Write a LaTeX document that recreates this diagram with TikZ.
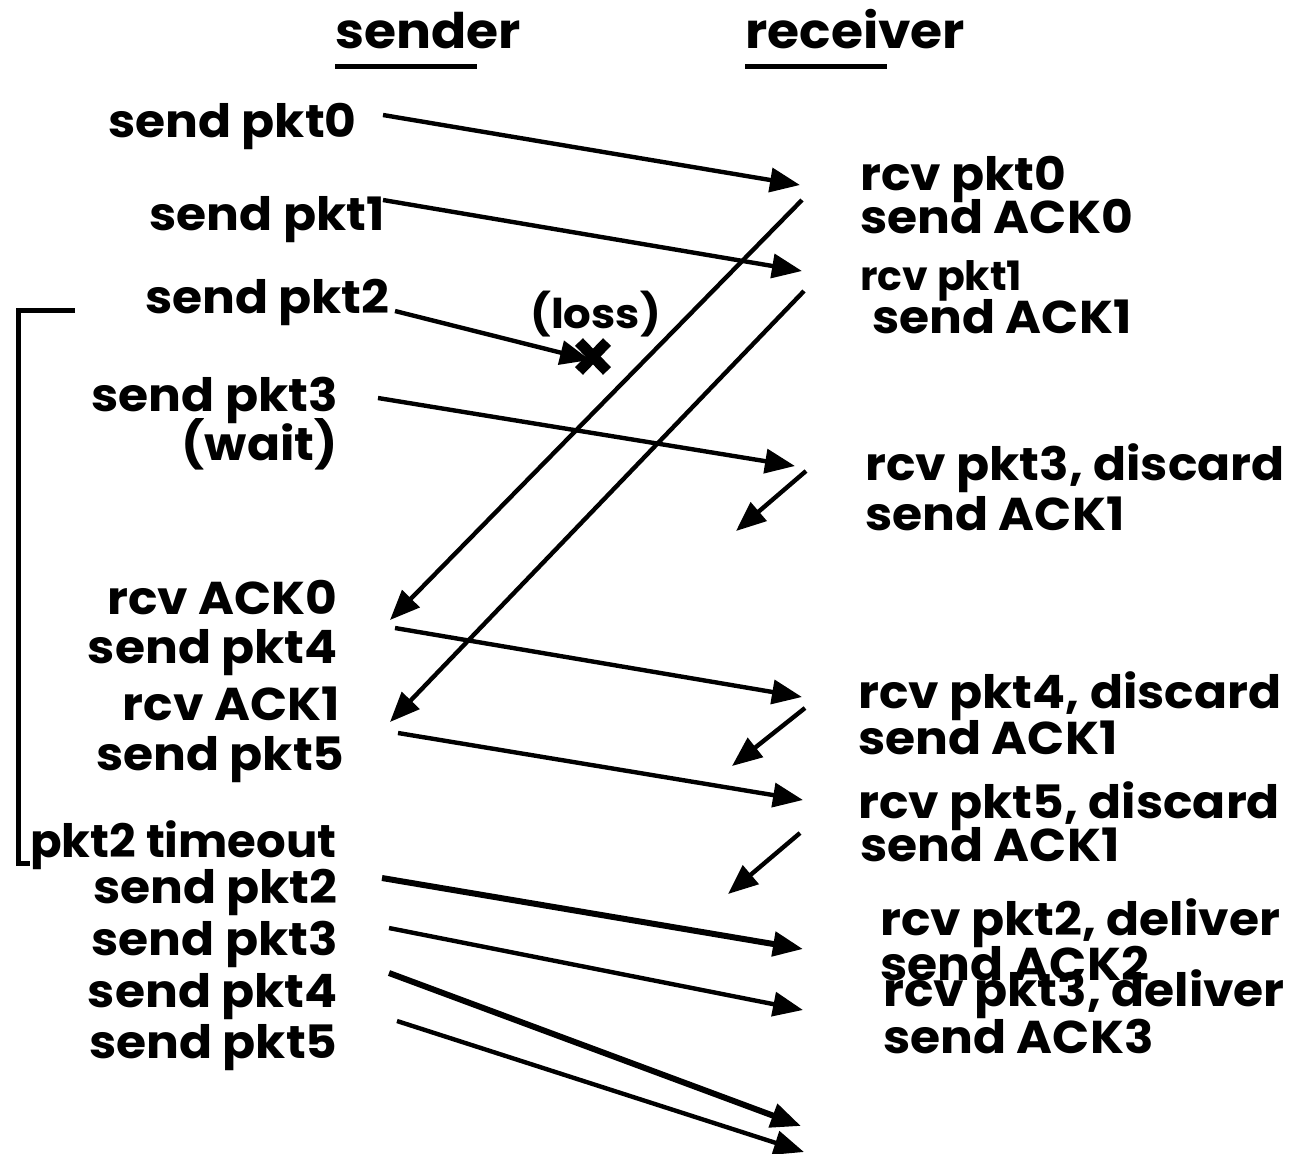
\documentclass[tikz,border=0pt]{standalone}
\usepackage{fontspec}
\setmainfont{Poppins}[FakeStretch=1.06]
\usetikzlibrary{arrows.meta}
\begin{document}
\begin{tikzpicture}[x=0.5pt,y=-0.5pt,
  lbl/.style={inner sep=0pt,font=\fontsize{23}{25}\selectfont\bfseries},
  lft/.style={lbl,anchor=base east},
  rgt/.style={lbl,anchor=base west},
  hdr/.style={inner sep=0pt,anchor=base west,font=\fontsize{24.5}{26}\selectfont\bfseries},
  msg/.style={line width=2.2pt,-{Triangle[length=15pt,width=12pt]}},
  thk/.style={msg,line width=3pt},
  ack/.style={msg},
  uline/.style={line width=2.5pt}]
\useasboundingbox (0,0) rectangle (1303,1153);
% headers
\node[hdr] (hs) at (335,48) {sender};
\node[hdr] (hr) at (745,48) {receiver};
\draw[uline] (335,66) coordinate (us1) -- (477,66) coordinate (us2);
\draw[uline] (745,66) coordinate (ur1) -- (887,66) coordinate (ur2);
% sender labels
\node[lft] (l0) at (357,137) {send pkt0};
\node[lft] (l1) at (385,230) {send pkt1};
\node[lft] (l2) at (390,313) {send pkt2};
\node[lft] (l3) at (338,411) {send pkt3};
\node[lft] (lw) at (338,460) {(wait)};
\node[lft] (la0) at (338,614) {rcv ACK0};
\node[lft] (l4) at (338,663) {send pkt4};
\node[lft] (la1) at (340,720) {rcv ACK1};
\node[lft] (l5) at (345,770) {send pkt5};
\node[lft] (lto) at (337,857) {\scalebox{0.955}[1]{pkt2 timeout}};
\node[lft] (r2) at (338,903) {send pkt2};
\node[lft] (r3) at (338,955) {send pkt3};
\node[lft] (r4) at (338,1007) {send pkt4};
\node[lft] (r5) at (338,1058) {send pkt5};
% receiver labels
\node[rgt] (a0) at (860,190) {rcv pkt0};
\node[rgt] (b0) at (860,233) {send ACK0};
\node[rgt] (a1) at (860,290) {\scalebox{0.84}[0.88]{rcv pkt1}};
\node[rgt] (b1) at (872,333) {send ACK1};
\node[rgt] (a3) at (865,480) {rcv pkt3, discard};
\node[rgt] (b3) at (865,530) {send ACK1};
\node[rgt] (a4) at (858,708) {rcv pkt4, discard};
\node[rgt] (b4) at (858,754) {send ACK1};
\node[rgt] (a5) at (858,818) {rcv pkt5, discard};
\node[rgt] (b5) at (860,861) {send ACK1};
\node[rgt] (c2) at (880,935) {rcv pkt2, deliver};
\node[rgt] (d2) at (880,980) {send ACK2};
\node[rgt] (c3) at (883,1006) {rcv pkt3, deliver};
\node[rgt] (d3) at (883,1053) {send ACK3};
\node[rgt,font=\fontsize{20.5}{22}\selectfont\bfseries] (loss) at (530,328) {(loss)};
% arrow end points
\coordinate (p0s) at (383,115); \coordinate (p0e) at (800,185);
\coordinate (p1s) at (383,200); \coordinate (p1e) at (802,271);
\coordinate (p2s) at (395,311); \coordinate (p2e) at (590,360);
\coordinate (p3s) at (378,398); \coordinate (p3e) at (795,466);
\coordinate (k0s) at (802,200); \coordinate (k0e) at (390,620);
\coordinate (k1s) at (804,291); \coordinate (k1e) at (390,722);
\coordinate (k3s) at (806,471); \coordinate (k3e) at (736,531);
\coordinate (p4s) at (395,628); \coordinate (p4e) at (802,697);
\coordinate (k4s) at (805,708); \coordinate (k4e) at (732,766);
\coordinate (p5s) at (398,733); \coordinate (p5e) at (803,800);
\coordinate (k5s) at (800,833); \coordinate (k5e) at (728,894);
\coordinate (q2s) at (382,878); \coordinate (q2e) at (803,949);
\coordinate (q3s) at (389,928); \coordinate (q3e) at (803,1010);
\coordinate (q4s) at (389,973); \coordinate (q4e) at (801,1126);
\coordinate (q5s) at (397,1021); \coordinate (q5e) at (804,1152);
% arrows
\draw[msg] (p0s) -- (p0e);
\draw[msg] (p1s) -- (p1e);
\draw[msg] (p2s) -- (p2e);
\draw[msg] (p3s) -- (p3e);
\draw[ack] (k0s) -- (k0e);
\draw[ack] (k1s) -- (k1e);
\draw[ack] (k3s) -- (k3e);
\draw[msg] (p4s) -- (p4e);
\draw[ack] (k4s) -- (k4e);
\draw[msg] (p5s) -- (p5e);
\draw[ack] (k5s) -- (k5e);
\draw[thk] (q2s) -- (q2e);
\draw[msg] (q3s) -- (q3e);
\draw[thk] (q4s) -- (q4e);
\draw[msg] (q5s) -- (q5e);
% loss mark
\coordinate (x1) at (579,342); \coordinate (x2) at (607,371);
\coordinate (x3) at (607,342); \coordinate (x4) at (579,371);
\draw[line width=5.5pt] (x1) -- (x2);
\draw[line width=5.5pt] (x3) -- (x4);
% timeout bracket
\coordinate (t1) at (75,310); \coordinate (t2) at (18,310);
\coordinate (t3) at (18,863); \coordinate (t4) at (30,863);
\draw[line width=2.5pt] (t1) -- (t2) -- (t3) -- (t4);
\end{tikzpicture}
\end{document}
